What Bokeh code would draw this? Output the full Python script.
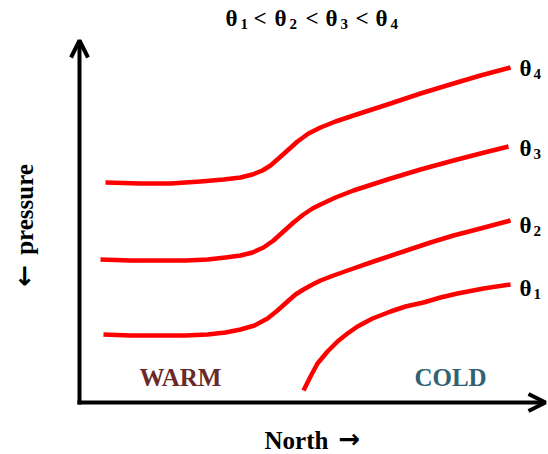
from bokeh.plotting import figure
from bokeh.models import Range1d, Arrow, OpenHead, Label
from bokeh.embed import file_html
from bokeh.resources import INLINE

# Isentropes (x, y in image coordinates; y grows downward)
theta4_x = [105, 140, 170, 200, 223, 240, 252, 262, 270, 278, 287, 297, 308, 320, 335, 353, 387, 420, 453, 480, 510]
theta4_y = [182, 183, 183, 181, 179, 177, 174, 170, 165, 158, 150, 141, 133, 127, 121, 115, 104, 93, 83, 75, 67]
theta3_x = [100, 130, 157, 185, 207, 225, 240, 252, 263, 273, 283, 293, 303, 312, 320, 335, 353, 387, 420, 453, 480, 508]
theta3_y = [259, 260, 260, 260, 259, 257, 255, 252, 247, 240, 231, 222, 214, 208, 204, 197, 190, 179, 169, 160, 153, 146]
theta2_x = [103, 130, 157, 185, 207, 225, 240, 254, 267, 277, 287, 295, 303, 312, 320, 333, 350, 373, 403, 430, 453, 480, 510]
theta2_y = [334, 335, 335, 335, 334, 332, 329, 325, 318, 310, 301, 294, 289, 284, 280, 275, 269, 261, 251, 242, 235, 228, 220]
theta1_x = [303, 310, 317, 327, 337, 347, 357, 372, 390, 405, 423, 440, 457, 483, 510]
theta1_y = [390, 376, 363, 351, 341, 333, 326, 318, 311, 306, 302, 297, 293, 288, 284]

curve_labels = ["1", "2", "3", "4"]
label_y = [290, 227, 150, 70]

W, H = 548, 454
p = figure(width=W, height=H, output_backend="svg", toolbar_location=None,
           x_range=Range1d(0, W), y_range=Range1d(H, 0),
           min_border=0, outline_line_color=None)
p.axis.visible = False
p.grid.visible = False
p.background_fill_color = "white"

RED = "#ff0000"
for xs, ys in [(theta1_x, theta1_y), (theta2_x, theta2_y),
               (theta3_x, theta3_y), (theta4_x, theta4_y)]:
    p.line(xs, ys, line_color=RED, line_width=4.5, line_cap="butt", line_join="round")

# axes arrows
p.add_layout(Arrow(end=OpenHead(size=17, line_width=4, line_color="black"),
                   x_start=79, y_start=404, x_end=79, y_end=40,
                   line_width=4, line_color="black"))
p.add_layout(Arrow(end=OpenHead(size=17, line_width=4, line_color="black"),
                   x_start=77, y_start=402, x_end=545, y_end=402,
                   line_width=4, line_color="black"))

FONT = "Liberation Serif"

def lab(x, y, t, size, color="black", align="left", angle=0, font=FONT):
    p.add_layout(Label(x=x, y=y, text=t, text_font=font, text_font_style="bold",
                       text_font_size=f"{size}px", text_color=color,
                       text_align=align, text_baseline="alphabetic", angle=angle))

# right-side theta labels
for s, yy in zip(curve_labels, label_y):
    lab(519, yy - 2, "θ", 23)
    lab(533, yy + 3, s, 15)

# title
title_parts = [(225, "θ", "1"), (274, "θ", "2"), (325, "θ", "3"), (375, "θ", "4")]
for x0, t, s in title_parts:
    lab(x0, 18, t, 23)
    lab(x0 + 15, 23, s, 15)
for x0 in [253, 305, 355]:
    lab(x0, 18, "<", 23)

lab(180, 377, "WARM", 25, color="#6a2a2a", align="center")
lab(450, 377, "COLD", 25, color="#2f6272", align="center")
lab(264, 440, "North", 25)
lab(338, 438, "→", 26, font="DejaVu Sans")
lab(24, 209, "pressure", 25, align="center", angle=1.5708)
lab(23, 275, "←", 26, align="center", angle=1.5708, font="DejaVu Sans")

open("out.html", "w").write(file_html(p, INLINE))
